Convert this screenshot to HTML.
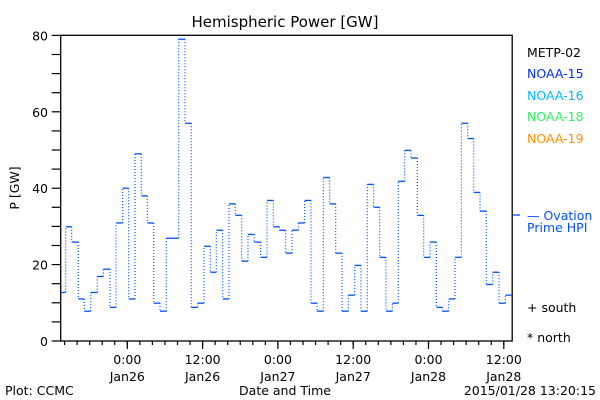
<!DOCTYPE html>
<html><head><meta charset="utf-8"><style>
body{margin:0;background:#fff}
svg{display:block}
text{font-family:"DejaVu Sans","Liberation Sans",sans-serif;font-size:12.5px}
</style></head><body>
<svg id="s" width="600" height="400" xmlns="http://www.w3.org/2000/svg">
<rect width="600" height="400" fill="#fff"/>
<text x="285" y="27" text-anchor="middle" font-size="15" style="font-size:15px">Hemispheric Power [GW]</text>
<text transform="translate(19,188) rotate(-90)" text-anchor="middle">P [GW]</text>
<rect x="60.7" y="35.3" width="451.5" height="305.7" fill="none" stroke="#000" stroke-width="1.3"/>
<g id="ax" stroke="#000" stroke-width="1.2"></g>
<g id="lab"></g>
<g id="data"></g>
<line x1="513" y1="215" x2="520" y2="215" stroke="#0050ff" stroke-width="1.3"/>
<text x="527" y="220" fill="#0050ff">— Ovation</text>
<text x="527" y="232" fill="#0050ff">Prime HPI</text>
<text x="527" y="57" fill="#000">METP-02</text>
<text x="527" y="78" fill="#0030e0">NOAA-15</text>
<text x="527" y="100" fill="#00b8ff">NOAA-16</text>
<text x="527" y="121" fill="#30f060">NOAA-18</text>
<text x="527" y="143" fill="#ff9000">NOAA-19</text>
<text x="527" y="312">+ south</text>
<text x="527" y="342">* north</text>
<text x="5" y="395">Plot: CCMC</text>
<text x="285" y="395" text-anchor="middle">Date and Time</text>
<text x="596" y="395" text-anchor="end">2015/01/28 13:20:15</text>
</svg>
<script>
var NS="http://www.w3.org/2000/svg";
function el(p,t,a,tx){var e=document.createElementNS(NS,t);for(var k in a)e.setAttribute(k,a[k]);if(tx)e.textContent=tx;document.getElementById(p).appendChild(e);}
var y0=341,sc=3.82;
for(var v=0;v<=80;v+=5){var y=y0-v*sc;el("ax","line",{x1:51.7,y1:y,x2:60.7,y2:y});
 if(v%20==0)el("lab","text",{x:48,y:y+5,"text-anchor":"end"},""+v);}
var majors=[127.3,202.6,277.9,353.2,428.5,503.8],labs=[["0:00","Jan26"],["12:00","Jan26"],["0:00","Jan27"],["12:00","Jan27"],["0:00","Jan28"],["12:00","Jan28"]];
for(var x=majors[0]-12.55*5;x<512;x+=12.55){if(x<61)continue;el("ax","line",{x1:x,y1:341,x2:x,y2:345});}
majors.forEach(function(x,i){el("ax","line",{x1:x,y1:341,x2:x,y2:349});
 el("lab","text",{x:x,y:364,"text-anchor":"middle"},labs[i][0]);el("lab","text",{x:x,y:381,"text-anchor":"middle"},labs[i][1]);});
var z1=[[32,12.7],[47,29.9],[65,25.9],[85,11],[103,7.8],[122,12.7],[142,16.9],[160,18.8],[180,8.8],[198,30.9],[218,40],[236,11],[255,49],[274,38],[292,30.9],[311,9.9],[330,7.8],[349,26.9],[386,79],[405,57],[424,8.8],[443,9.9],[462,24.8],[481,18],[499,29],[518,11],[537,35.9],[556,32.9],[575,20.9],[594,27.9],[613,25.9],[632,21.9],[651,36.8],[670,29.9],[688,29],[707,23]];
var z2=[[36,29],[55,30.9],[74,36.8],[93,9.9],[111,7.8],[130,42.8],[149,35.9],[167,23],[186,7.8],[205,12],[224,19.8],[243,7.8],[262,41],[281,35],[299,21.9],[318,7.8],[337,9.9],[355,41.8],[374,49.9],[393,47.9],[412,32.9],[431,21.9],[450,25.9],[469,8.8],[487,7.8],[506,11],[525,21.9],[544,57],[563,53],[581,38.9],[600,34],[619,14.8],[638,18],[657,9.9],[676,12],[697,null]];
var pts=[];z1.forEach(function(p){pts.push([50+p[0]/3,p[1]]);});z2.forEach(function(p){pts.push([280+p[0]/3,p[1]]);});
var col="#0050ff";
for(var i=0;i<pts.length-1;i++){var xa=pts[i][0],xb=pts[i+1][0],ya=y0-pts[i][1]*sc;
 el("data","line",{x1:xa,y1:ya,x2:xb,y2:ya,stroke:col,"stroke-width":1.3});
 if(pts[i+1][1]!=null){var yb=y0-pts[i+1][1]*sc;el("data","line",{x1:xb,y1:ya,x2:xb,y2:yb,stroke:col,"stroke-width":1.2,"stroke-dasharray":"1 2"});}}
</script>
</body></html>
